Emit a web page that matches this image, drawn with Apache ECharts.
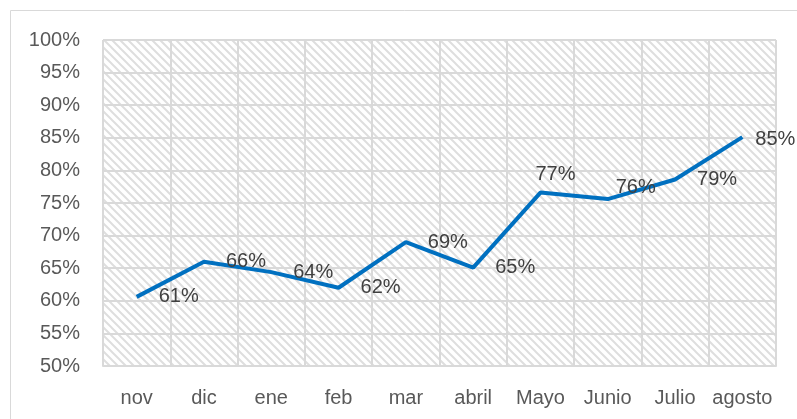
<!DOCTYPE html>
<html>
<head>
<meta charset="utf-8">
<script src="https://cdn.jsdelivr.net/npm/echarts@6/dist/echarts.min.js"></script>
<style>
  html, body { margin: 0; padding: 0; background: #fff; }
  #chart { width: 797px; height: 419px; }
</style>
</head>
<body>
<div id="chart"></div>
<script>
const months = ['nov', 'dic', 'ene', 'feb', 'mar', 'abril', 'Mayo', 'Junio', 'Julio', 'agosto']
const rates = [0.606, 0.66, 0.644, 0.62, 0.69, 0.651, 0.766, 0.756, 0.786, 0.851]
const yMin = 0.5
const yMax = 1.0
const yStep = 0.05

// a few labels were dragged by hand in the original
const labelNudge = { 6: [-27, -18], 7: [-14, -12], 9: [-9, 2] }

// diagonal hatch tile for the plot background
function hatch () {
  const s = 8
  const c = document.createElement('canvas')
  c.width = s
  c.height = s
  const ctx = c.getContext('2d')
  ctx.fillStyle = '#ffffff'
  ctx.fillRect(0, 0, s, s)
  ctx.strokeStyle = '#dedede'
  ctx.lineWidth = 2
  ctx.beginPath()
  ctx.moveTo(-2, -2)
  ctx.lineTo(s + 2, s + 2)
  ctx.moveTo(-2, s - 2)
  ctx.lineTo(2, s + 2)
  ctx.moveTo(s - 2, -2)
  ctx.lineTo(s + 2, 2)
  ctx.stroke()
  return c
}

const pct = v => Math.round(v * 100) + '%'
const font = '"Liberation Sans", "DejaVu Sans", sans-serif'

const points = rates.map((v, i) => labelNudge[i]
  ? { value: v, label: { offset: labelNudge[i] } }
  : v)

const chart = echarts.init(document.getElementById('chart'))
chart.setOption({
  animation: false,
  graphic: [{
    type: 'rect',
    shape: { x: 10.5, y: 10.5, width: 820, height: 440 },
    style: { fill: 'none', stroke: '#d9d9d9', lineWidth: 1 },
    silent: true
  }],
  grid: {
    left: 103,
    right: 21,
    top: 40,
    bottom: 53,
    show: true,
    borderWidth: 0,
    backgroundColor: { image: hatch(), repeat: 'repeat' }
  },
  xAxis: {
    type: 'category',
    data: months,
    boundaryGap: true,
    axisLine: { lineStyle: { color: '#d9d9d9', width: 2 } },
    axisTick: { show: false },
    splitLine: { show: true, lineStyle: { color: '#d9d9d9', width: 2 } },
    axisLabel: { color: '#595959', fontSize: 20, fontFamily: font, margin: 22, interval: 0 }
  },
  yAxis: {
    type: 'value',
    min: yMin,
    max: yMax,
    interval: yStep,
    axisLine: { show: false },
    axisTick: { show: false },
    splitLine: { lineStyle: { color: '#d9d9d9', width: 2 } },
    axisLabel: { color: '#595959', fontSize: 20, fontFamily: font, margin: 23, formatter: pct }
  },
  series: [{
    type: 'line',
    data: points,
    symbol: 'circle',
    symbolSize: 0,
    showSymbol: true,
    lineStyle: { color: '#0070c0', width: 4 },
    itemStyle: { color: '#0070c0' },
    label: {
      show: true,
      position: 'right',
      distance: 22,
      color: '#404040',
      fontSize: 20,
      fontFamily: font,
      formatter: p => pct(p.value)
    }
  }]
})
</script>
</body>
</html>
